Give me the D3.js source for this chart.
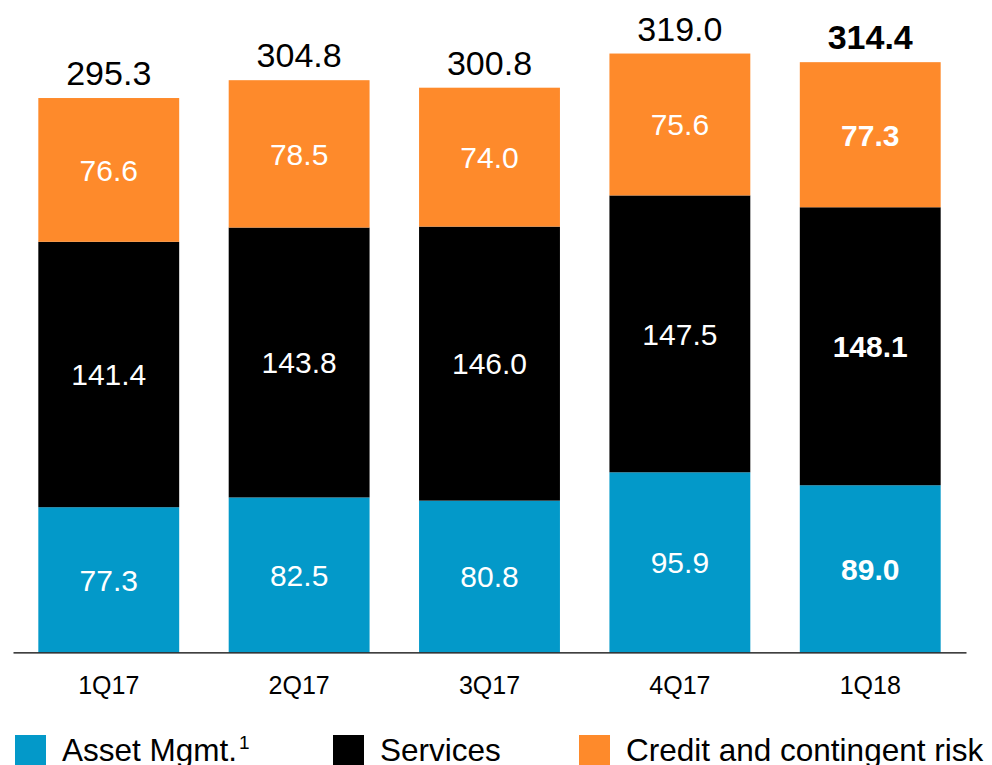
<!DOCTYPE html>
<html>
<head>
<meta charset="utf-8">
<script src="https://cdn.jsdelivr.net/npm/d3@7/dist/d3.min.js"></script>
<style>
  html, body { margin: 0; padding: 0; background: #fff; }
  svg { display: block; font-family: Arial, "Liberation Sans", sans-serif; }
</style>
</head>
<body>
<svg id="chart" width="992" height="765"></svg>
<script>
const categories = ["1Q17", "2Q17", "3Q17", "4Q17", "1Q18"];
const assetMgmt = [77.3, 82.5, 80.8, 95.9, 89.0];
const services = [141.4, 143.8, 146.0, 147.5, 148.1];
const credit = [76.6, 78.5, 74.0, 75.6, 77.3];
const totals = [295.3, 304.8, 300.8, 319.0, 314.4];
const seriesNames = ["Asset Mgmt.", "Services", "Credit and contingent risk"];
const seriesColors = ["#0399C9", "#000000", "#FE8A2B"];
const labelColors = ["#ffffff", "#ffffff", "#ffffff"];

const svg = d3.select("#chart");
const baseY = 652.3;
const pxPerUnit = 1.877;

const x = d3.scaleBand()
  .domain(categories)
  .range([13, 966])
  .paddingInner(0.26)
  .paddingOuter(0.133);

const y = d3.scaleLinear()
  .domain([0, 340])
  .range([baseY, baseY - 340 * pxPerUnit]);

const rows = categories.map((c, i) => ({
  cat: c, asset: assetMgmt[i], services: services[i], credit: credit[i], total: totals[i], idx: i
}));
const stack = d3.stack().keys(["asset", "services", "credit"]);
const stacked = stack(rows);

const g = svg.append("g");
stacked.forEach((layer, li) => {
  g.selectAll(null)
    .data(layer)
    .enter()
    .append("rect")
    .attr("x", d => x(d.data.cat))
    .attr("width", x.bandwidth())
    .attr("y", d => y(d[1]))
    .attr("height", d => y(d[0]) - y(d[1]))
    .attr("fill", seriesColors[li]);

  g.selectAll(null)
    .data(layer)
    .enter()
    .append("text")
    .attr("x", d => x(d.data.cat) + x.bandwidth() / 2)
    .attr("y", d => (y(d[0]) + y(d[1])) / 2)
    .attr("dy", "0.36em")
    .attr("text-anchor", "middle")
    .attr("fill", labelColors[li])
    .attr("font-size", 30)
    .attr("font-weight", d => d.data.idx === categories.length - 1 ? "bold" : "normal")
    .text(d => (d[1] - d[0]).toFixed(1));
});

// totals
g.selectAll(null)
  .data(rows)
  .enter()
  .append("text")
  .attr("x", d => x(d.cat) + x.bandwidth() / 2)
  .attr("y", d => y(d.total) - 13)
  .attr("text-anchor", "middle")
  .attr("fill", "#000")
  .attr("font-size", 34)
  .attr("font-weight", d => d.idx === categories.length - 1 ? "bold" : "normal")
  .text(d => d.total.toFixed(1));

// x axis
const xAxis = d3.axisBottom(x).tickSize(0).tickPadding(0);
const axG = svg.append("g")
  .attr("transform", `translate(0,${baseY})`)
  .call(xAxis);
axG.select(".domain").attr("stroke", "#000").attr("stroke-width", 1.3);
axG.selectAll(".tick text")
  .attr("font-size", 25)
  .attr("fill", "#000")
  .attr("font-family", "Arial, 'Liberation Sans', sans-serif")
  .attr("dy", null)
  .attr("y", 42);

// legend
const legendX = [15, 333, 579];
const leg = svg.append("g");
seriesNames.forEach((name, i) => {
  leg.append("rect")
    .attr("x", legendX[i])
    .attr("y", 735)
    .attr("width", 31)
    .attr("height", 31)
    .attr("fill", seriesColors[i]);
  const t = leg.append("text")
    .attr("x", legendX[i] + 47)
    .attr("y", 761)
    .attr("font-size", 31.5)
    .attr("fill", "#000")
    .text(name);
  if (i === 0) {
    t.append("tspan")
      .attr("font-size", 19)
      .attr("dy", -12)
      .attr("dx", 2)
      .text("1");
  }
});
</script>
</body>
</html>
